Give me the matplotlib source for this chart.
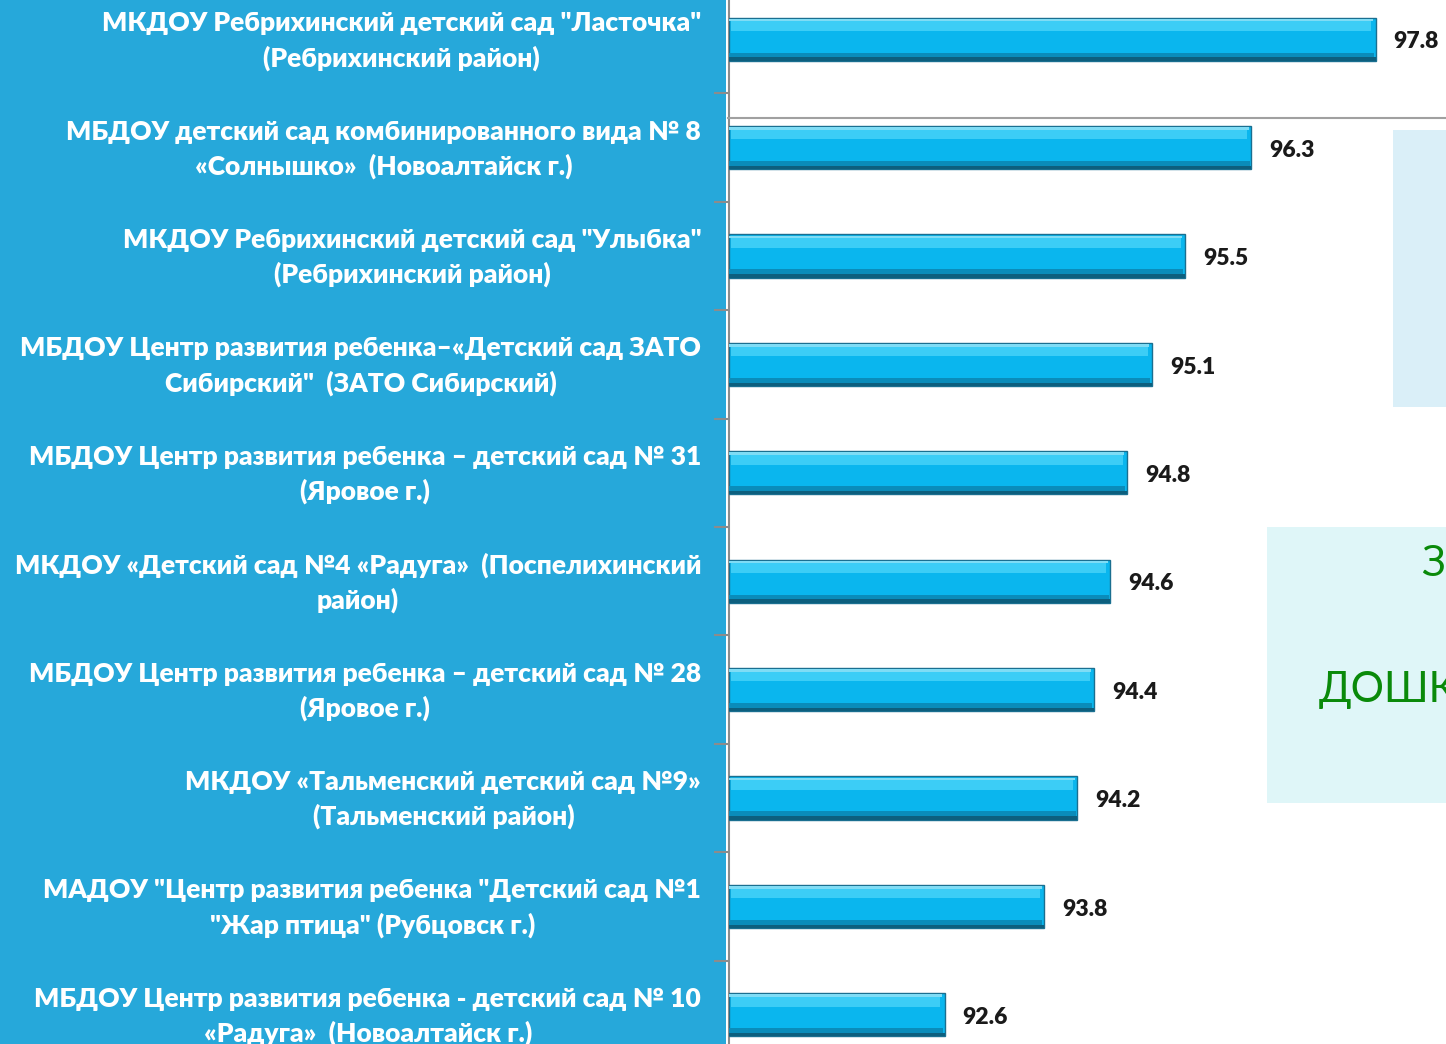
import matplotlib
matplotlib.use("Agg")
import matplotlib.pyplot as plt
from matplotlib.patches import Rectangle
from matplotlib.lines import Line2D
from matplotlib.transforms import ScaledTranslation
import numpy as np

categories = [
    'МКДОУ Ребрихинский детский сад "Ласточка"\n(Ребрихинский район)',
    'МБДОУ детский сад комбинированного вида № 8\n«Солнышко»  (Новоалтайск г.)',
    'МКДОУ Ребрихинский детский сад "Улыбка"\n(Ребрихинский район)',
    'МБДОУ Центр развития ребенка–«Детский сад ЗАТО\nСибирский"  (ЗАТО Сибирский)',
    'МБДОУ Центр развития ребенка – детский сад № 31\n(Яровое г.)',
    'МКДОУ «Детский сад №4 «Радуга»  (Поспелихинский\nрайон)',
    'МБДОУ Центр развития ребенка – детский сад № 28\n(Яровое г.)',
    'МКДОУ «Тальменский детский сад №9»\n(Тальменский район)',
    'МАДОУ "Центр развития ребенка "Детский сад №1\n"Жар птица" (Рубцовск г.)',
    'МБДОУ Центр развития ребенка - детский сад № 10\n«Радуга»  (Новоалтайск г.)',
]
values = [97.8, 96.3, 95.5, 95.1, 94.8, 94.6, 94.4, 94.2, 93.8, 92.6]
value_labels = ["97.8", "96.3", "95.5", "95.1", "94.8", "94.6", "94.4", "94.2", "93.8", "92.6"]
x_min = 90.0
overlay_top = "З"
overlay_mid = "ДОШК"

FONT = ["Lato", "DejaVu Sans"]
W, H = 1446, 1044
fig = plt.figure(figsize=(W / 100, H / 100), dpi=100)
fig.patch.set_facecolor("white")

# blue left panel
fig.add_artist(Rectangle((0, 0), 726 / W, 1, transform=fig.transFigure,
                         facecolor="#26a8da", edgecolor="none", zorder=0))

ax = fig.add_axes([729 / W, (H - 1069) / H, (W - 729) / W, 1084 / H])
ax.set_facecolor("none")
y = np.arange(len(categories))
widths = [v - x_min for v in values]
bh = 0.4
ax.barh(y, widths, left=x_min, height=bh, color="#0ab6ee",
        edgecolor="#1a6f90", linewidth=1.0, zorder=3)
# bevel: light top band, dark bottom bands
ax.barh(y - bh * 0.30, [w - 0.08 for w in widths], left=x_min + 0.03, height=bh * 0.22,
        color="#3ccdf6", edgecolor="none", zorder=4)
ax.barh(y - bh * 0.44, [w - 0.03 for w in widths], left=x_min, height=bh * 0.06,
        color="#7fdcf5", edgecolor="none", zorder=4)
ax.barh(y + bh * 0.38, [w - 0.02 for w in widths], left=x_min, height=bh * 0.14,
        color="#0a8cba", edgecolor="none", zorder=4)
ax.barh(y + bh * 0.46, widths, left=x_min, height=bh * 0.08,
        color="#0d5f7e", edgecolor="none", zorder=4)

for yi, v, lab in zip(y, values, value_labels):
    ax.annotate(lab, xy=(v, yi), xytext=(13, -2), textcoords="offset points",
                ha="left", va="center", fontsize=16.5, fontweight="heavy",
                family=FONT, color="#1a1a1a", zorder=5)

ax.set_xlim(x_min, x_min + 717 / 82.9)
ax.set_ylim(len(categories) - 0.5, -0.5)
ax.set_yticks(y)
ax.set_yticklabels(categories, fontsize=19, fontweight="heavy", color="white",
                   family=FONT, linespacing=1.47,
                   multialignment="center")
ax.tick_params(axis="y", which="major", length=0, pad=20)
ax.set_yticks(np.arange(-0.5, len(categories), 1.0), minor=True)
ax.tick_params(axis="y", which="minor", length=11, width=1.5, color="#8c8c8c", direction="out")
ax.set_xticks([])
for s in ["top", "right", "bottom"]:
    ax.spines[s].set_visible(False)
ax.spines["left"].set_color("#8c8c8c")
ax.spines["left"].set_linewidth(1.5)

shift = ScaledTranslation(0, 0.055, fig.dpi_scale_trans)
for tick in ax.yaxis.get_major_ticks():
    tick.label1.set_transform(tick.label1.get_transform() + shift)

# overlay shapes on the right
fig.add_artist(Line2D([728 / W, 1], [1 - 118 / H, 1 - 118 / H], transform=fig.transFigure,
                      color="#a0a0a0", linewidth=1.5, zorder=6))
fig.add_artist(Rectangle((1393 / W, 1 - 407 / H), (W - 1393) / W, 277 / H,
                         transform=fig.transFigure, facecolor="#daeff8",
                         edgecolor="none", zorder=6))
fig.add_artist(Rectangle((1267 / W, 1 - 803 / H), (W - 1267) / W, 276 / H,
                         transform=fig.transFigure, facecolor="#dff6f8",
                         edgecolor="none", zorder=6))
fig.text(1421 / W, 1 - 564 / H, overlay_top, fontsize=30, color="#0a8a0a",
         family=FONT, ha="left", va="center", zorder=7)
fig.text(1319 / W, 1 - 690 / H, overlay_mid, fontsize=30, color="#0a8a0a",
         family=FONT, ha="left", va="center", zorder=7)

fig.savefig("out.png", dpi=100)
